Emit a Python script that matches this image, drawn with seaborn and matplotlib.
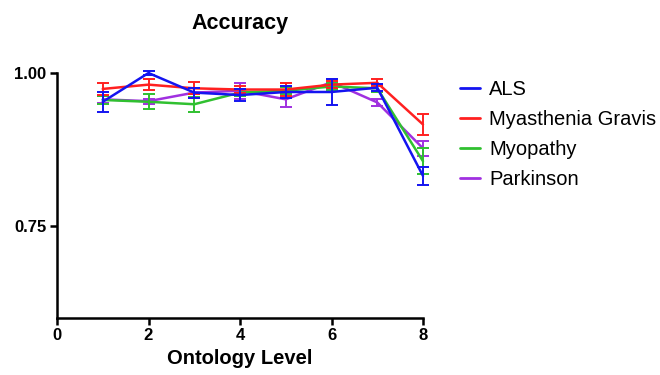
import matplotlib
matplotlib.use("Agg")
import matplotlib.pyplot as plt
import seaborn as sns
import pandas as pd

levels = [1, 2, 3, 4, 5, 6, 7, 8]
groups = ["ALS", "Myasthenia Gravis", "Myopathy", "Parkinson"]
als = [0.953, 1.000, 0.968, 0.964, 0.969, 0.969, 0.976, 0.832]
als_err = [0.016, 0.003, 0.008, 0.010, 0.010, 0.022, 0.006, 0.015]
mg = [0.974, 0.981, 0.975, 0.973, 0.973, 0.981, 0.984, 0.916]
mg_err = [0.010, 0.009, 0.010, 0.006, 0.010, 0.006, 0.006, 0.017]
myo = [0.956, 0.953, 0.949, 0.968, 0.971, 0.978, 0.975, 0.856]
myo_err = [0.006, 0.012, 0.012, 0.006, 0.006, 0.006, 0.006, 0.021]
park = [0.957, 0.954, 0.968, 0.971, 0.957, 0.985, 0.952, 0.877]
park_err = [0.006, 0.004, 0.008, 0.013, 0.013, 0.006, 0.006, 0.012]
xticks = [0, 2, 4, 6, 8]
yticks = [0.75, 1.00]
ytick_labels = ["0.75", "1.00"]

colors = {"ALS": "#1414F0", "Myasthenia Gravis": "#FF2020",
          "Myopathy": "#30C030", "Parkinson": "#A030E0"}

means = {"ALS": als, "Myasthenia Gravis": mg, "Myopathy": myo, "Parkinson": park}
errs = {"ALS": als_err, "Myasthenia Gravis": mg_err, "Myopathy": myo_err, "Parkinson": park_err}

rows = []
for g in groups:
    for x, v in zip(levels, means[g]):
        rows.append({"Ontology Level": x, "Accuracy": v, "Group": g})
df = pd.DataFrame(rows)

sns.set_theme(style="ticks")
plt.rcParams["font.family"] = ["Liberation Sans", "DejaVu Sans"]
plt.rcParams["text.color"] = "black"
plt.rcParams["axes.labelcolor"] = "black"
plt.rcParams["xtick.color"] = "black"
plt.rcParams["ytick.color"] = "black"

fig = plt.figure(figsize=(6.6, 3.75), dpi=100)
ax = fig.add_axes([57/660, 1 - 318/375, (423 - 57)/660, (318 - 73)/375])

sns.lineplot(data=df, x="Ontology Level", y="Accuracy", hue="Group",
             hue_order=groups, palette=colors, linewidth=1.8, ax=ax,
             errorbar=None, legend=True)

zorders = {"ALS": 5, "Myasthenia Gravis": 4, "Myopathy": 3, "Parkinson": 2}
for line, g in zip(ax.lines, groups):
    line.set_zorder(zorders[g])
    line.set_clip_on(False)

for g in groups:
    ax.errorbar(levels, means[g], yerr=errs[g], fmt="none", ecolor=colors[g],
                elinewidth=1.4, capsize=4.5, capthick=1.4, zorder=zorders[g],
                clip_on=False)

ax.set_xlim(0, 8)
ax.set_ylim(0.6, 1.0)
ax.set_xticks(xticks)
ax.set_yticks(yticks)
ax.set_yticklabels(ytick_labels)
sns.despine(ax=ax)
for s in ["left", "bottom"]:
    ax.spines[s].set_linewidth(1.8)
    ax.spines[s].set_color("black")
ax.tick_params(axis="both", length=5, width=1.8, color="black",
               labelcolor="black", labelsize=12, pad=2.5)
for lab in ax.get_xticklabels() + ax.get_yticklabels():
    lab.set_fontweight("bold")
ax.set_xlabel("Ontology Level", fontsize=14.5, fontweight="bold", labelpad=4,
              color="black")
ax.set_ylabel("")
ax.set_title("Accuracy", fontsize=15.5, fontweight="bold", pad=32, color="black")

sns.move_legend(ax, "upper left", bbox_to_anchor=(460/660, 1 - 80/375),
                bbox_transform=fig.transFigure, frameon=False,
                title=None, fontsize=14.5, handlelength=1.0, handletextpad=0.45,
                labelspacing=0.55, borderpad=0, borderaxespad=0)
for h in ax.get_legend().legend_handles:
    h.set_linewidth(2)
for t in ax.get_legend().get_texts():
    t.set_color("black")

fig.savefig("out.png", dpi=100)
